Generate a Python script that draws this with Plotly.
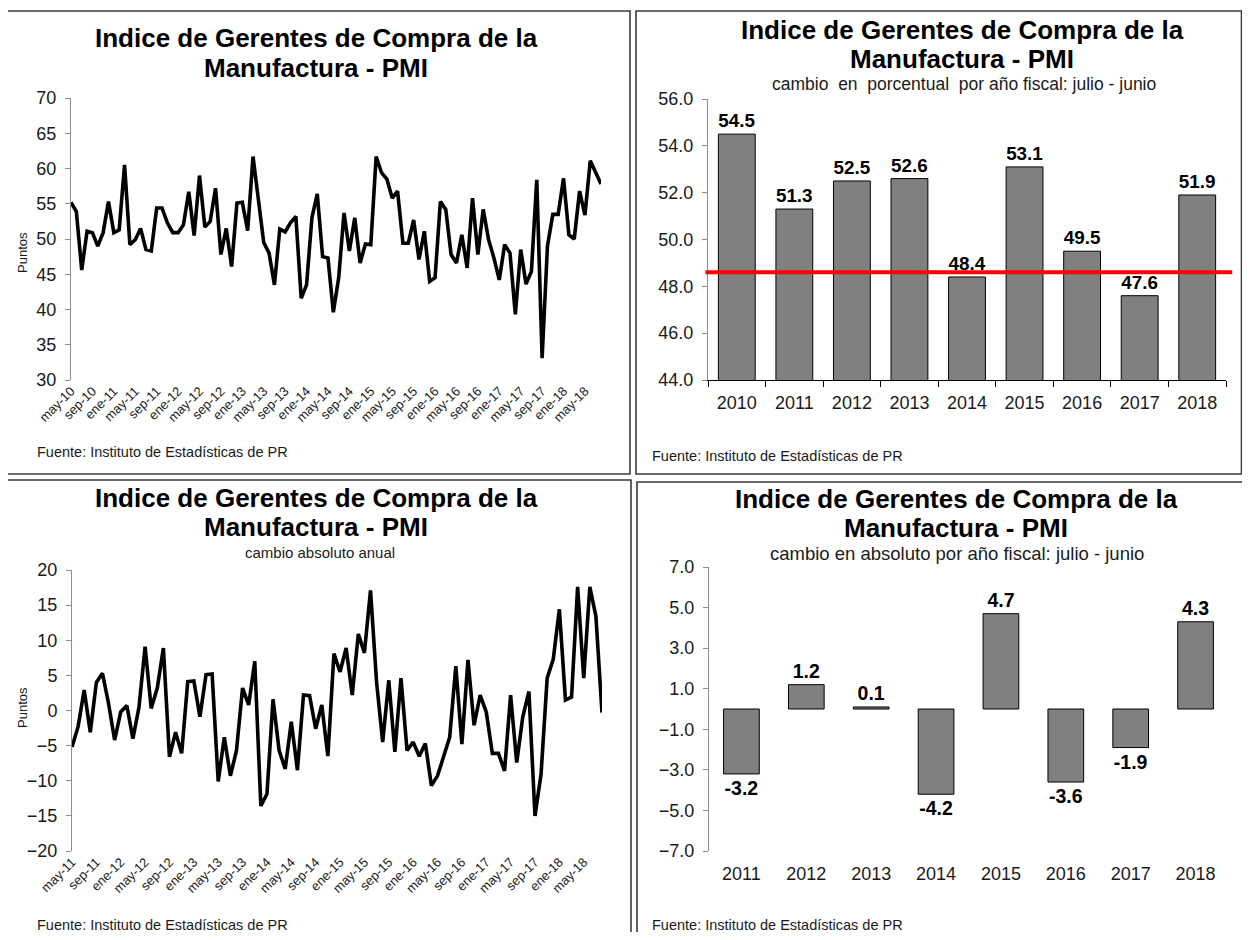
import plotly.graph_objects as go

# page body has an 8px margin; the figure fills the rest of the 1250x940 window
OX, OY = 8, 8
W, H = 1250 - 2 * OX, 940 - 2 * OY

# ---------------- data ----------------
meses = ["ene", "feb", "mar", "abr", "may", "jun", "jul", "ago", "sep", "oct", "nov", "dic"]

# PMI mensual, may-2010 .. ago-2018
pmi_valores = [
    55.2, 53.9, 45.6, 51.1, 50.9, 49.0, 50.9, 55.3, 50.9, 51.3,
    60.5, 49.2, 49.9, 51.5, 48.5, 48.3, 54.4, 54.4, 52.3, 50.9,
    50.9, 52.0, 56.7, 50.5, 59.0, 51.7, 52.5, 57.2, 47.8, 51.5,
    46.1, 55.1, 55.2, 51.2, 61.7, 56.0, 49.5, 48.0, 43.5, 51.4,
    51.0, 52.3, 53.2, 41.6, 43.5, 53.0, 56.4, 47.5, 47.3, 39.6,
    44.5, 53.7, 48.3, 53.0, 46.6, 49.3, 49.2, 61.7, 59.4, 58.5,
    55.8, 56.8, 49.4, 49.4, 52.7, 47.1, 51.1, 44.0, 44.5, 55.3,
    54.2, 47.8, 46.6, 50.6, 45.9, 55.8, 47.8, 54.2, 49.9, 47.3,
    44.2, 49.2, 48.0, 39.3, 48.5, 43.6, 45.4, 58.4, 33.1, 49.0,
    53.5, 53.5, 58.6, 50.6, 50.0, 56.8, 53.4, 61.1, 59.5, 57.8,
]

# cambio absoluto anual, may-2011 .. ago-2018
cambio_anual = [
    -5.2, -2.3, 2.9, -3.1, 4.0, 5.3, 1.0, -4.2, -0.2, 0.7,
    -4.0, 0.5, 9.1, 0.3, 3.2, 8.9, -6.6, -3.1, -6.1, 4.1,
    4.2, -0.9, 5.1, 5.2, -10.1, -3.8, -9.3, -5.7, 3.2, 0.8,
    7.0, -13.6, -11.9, 1.6, -5.7, -8.3, -1.6, -8.5, 2.2, 2.1,
    -2.6, 0.8, -6.5, 8.1, 5.5, 8.9, 2.2, 10.9, 8.2, 17.1,
    4.0, -4.5, 4.3, -5.9, 4.6, -5.7, -4.5, -6.5, -4.7, -10.7,
    -9.3, -6.5, -3.8, 6.3, -4.8, 7.2, -2.1, 2.2, -0.2, -6.1,
    -6.1, -8.6, 2.2, -7.4, -0.9, 2.7, -15.0, -9.0, 4.6, 7.3,
    14.4, 1.5, 1.9, 17.6, 4.6, 17.6, 13.4, -0.3,
]

anios_fiscal = ["2010", "2011", "2012", "2013", "2014", "2015", "2016", "2017", "2018"]
pmi_fiscal = [54.5, 51.3, 52.5, 52.6, 48.4, 53.1, 49.5, 47.6, 51.9]
linea_referencia = 48.6

anios_cambio = ["2011", "2012", "2013", "2014", "2015", "2016", "2017", "2018"]
cambio_fiscal = [-3.2, 1.2, 0.1, -4.2, 4.7, -3.6, -1.9, 4.3]

titulo_1 = "Indice de Gerentes de Compra de la"
titulo_2 = "Manufactura - PMI"
fuente = "Fuente: Instituto de Estadísticas de PR"
sub_tr = "cambio  en  porcentual  por año fiscal: julio - junio"
sub_bl = "cambio absoluto anual"
sub_br = "cambio en absoluto por año fiscal: julio - junio"


def etiquetas_mes(anio, mes, n):
    out = []
    for _ in range(n):
        out.append(f"{meses[mes]}-{anio % 100:02d}")
        mes += 1
        if mes == 12:
            mes, anio = 0, anio + 1
    return out


pmi_meses = etiquetas_mes(2010, 4, len(pmi_valores))
cambio_meses = etiquetas_mes(2011, 4, len(cambio_anual))


def fx(px):
    return (px - OX) / W


def fy(py):
    return 1 - (py - OY) / H


FONT = "Liberation Sans, Arial, sans-serif"
AX = "#8c8c8c"
TXT = "#1a1a1a"

fig = go.Figure()

fig.add_trace(go.Scatter(x=pmi_meses, y=pmi_valores, mode="lines",
                         line=dict(color="black", width=3.6), xaxis="x", yaxis="y",
                         showlegend=False))
fig.add_trace(go.Bar(x=anios_fiscal, y=pmi_fiscal, xaxis="x2", yaxis="y2",
                     marker=dict(color="#808080", line=dict(color="black", width=1)),
                     width=0.64, text=pmi_fiscal, texttemplate="%{y:.1f}",
                     textposition="outside", cliponaxis=False,
                     textfont=dict(family=FONT, size=19.5, color="black", weight="bold"),
                     showlegend=False))
fig.add_trace(go.Scatter(x=cambio_meses, y=cambio_anual, mode="lines",
                         line=dict(color="black", width=3.6), xaxis="x3", yaxis="y3",
                         showlegend=False))
fig.add_trace(go.Bar(x=anios_cambio, y=cambio_fiscal, xaxis="x4", yaxis="y4",
                     marker=dict(color="#808080", line=dict(color="black", width=1)),
                     width=0.55, text=cambio_fiscal, texttemplate="%{y:.1f}",
                     textposition="outside", cliponaxis=False,
                     textfont=dict(family=FONT, size=19.5, color="black", weight="bold"),
                     showlegend=False))

tickfont = dict(family=FONT, size=18, color=TXT)
monthfont = dict(family=FONT, size=13, color=TXT)
yearfont = dict(family=FONT, size=18, color=TXT)

yl_common = dict(showgrid=False, zeroline=False, showline=True, linecolor=AX, linewidth=1,
                 ticks="outside", ticklen=5, tickcolor=AX, tickfont=tickfont,
                 ticklabelstandoff=5, automargin=False)

tl_x = [fx(71), fx(601)]
tl_y = [fy(380), fy(98)]
tr_x = [fx(708), fx(1226)]
tr_y = [fy(380), fy(99)]
bl_x = [fx(72), fx(602)]
bl_y = [fy(851), fy(570)]
br_x = [fx(709), fx(1228)]
br_y = [fy(851), fy(567)]

tl_range = [30, 70]
bl_range = [-20, 20]
br_range = [-7, 7]


def pos(dom, rng, v):
    return dom[0] + (v - rng[0]) / (rng[1] - rng[0]) * (dom[1] - dom[0])


axis_at = dict(type="linear", automargin=False, ticks="outside", tickcolor="black",
               showline=True, linecolor="black", showticklabels=False,
               showgrid=False, zeroline=False)

fig.update_layout(
    width=W, height=H, margin=dict(l=0, r=0, t=0, b=0, autoexpand=False),
    paper_bgcolor="white", plot_bgcolor="rgba(0,0,0,0)",
    font=dict(family=FONT, color=TXT),
    xaxis=dict(domain=tl_x, anchor="y", type="category", range=[0, len(pmi_meses) - 1],
               tickmode="array", tickvals=pmi_meses[::4], tickangle=-45, automargin=False,
               showline=False, ticks="", showgrid=False, zeroline=False, tickfont=monthfont),
    yaxis=dict(domain=tl_y, anchor="x", range=tl_range, dtick=5, **yl_common),
    xaxis5=dict(overlaying="x", anchor="free", position=pos(tl_y, tl_range, 50),
                range=[0, len(pmi_meses) - 1], tickvals=list(range(0, len(pmi_meses), 4)),
                ticklen=4, linewidth=1.3, **axis_at),
    xaxis2=dict(domain=tr_x, anchor="y2", type="category", showline=True, linecolor="black",
                linewidth=1, ticks="outside", tickson="boundaries", ticklen=6, automargin=False,
                tickcolor="black", showgrid=False, zeroline=False, tickfont=yearfont,
                ticklabelstandoff=6),
    yaxis2=dict(domain=tr_y, anchor="x2", range=[44, 56], dtick=2, tickformat=".1f",
                **yl_common),
    xaxis3=dict(domain=bl_x, anchor="y3", type="category", range=[0, len(cambio_meses) - 1],
                tickmode="array", tickvals=cambio_meses[::4], tickangle=-45, automargin=False,
                showline=False, ticks="", showgrid=False, zeroline=False, tickfont=monthfont),
    yaxis3=dict(domain=bl_y, anchor="x3", range=bl_range, dtick=5, **yl_common),
    xaxis6=dict(overlaying="x3", anchor="free", position=pos(bl_y, bl_range, 0),
                range=[0, len(cambio_meses) - 1], tickvals=list(range(0, len(cambio_meses), 4)),
                ticklen=4, linewidth=1.3, **axis_at),
    xaxis4=dict(domain=br_x, anchor="y4", type="category", showline=False, ticks="",
                showgrid=False, zeroline=False, automargin=False, tickfont=yearfont,
                ticklabelstandoff=10),
    yaxis4=dict(domain=br_y, anchor="x4", range=br_range, tickvals=[-7, -5, -3, -1, 1, 3, 5, 7],
                tickformat=".1f", **yl_common),
    xaxis7=dict(overlaying="x4", anchor="free", position=pos(br_y, br_range, 0),
                range=[-0.5, len(anios_cambio) - 0.5],
                tickvals=[i - 0.5 for i in range(len(anios_cambio) + 1)],
                ticklen=5, linewidth=1, **axis_at),
)

fig.add_shape(type="line", xref="x2 domain", yref="y2", x0=-0.005, x1=1.012,
              y0=linea_referencia, y1=linea_referencia,
              line=dict(color="#ff0000", width=4), layer="above")

for (x0, y0, x1, y1) in [(7, 11, 630, 474), (636, 11, 1241.5, 474),
                         (7, 480, 631, 945), (637, 482, 1247, 945)]:
    fig.add_shape(type="rect", xref="paper", yref="paper",
                  x0=fx(x0), x1=fx(x1), y0=fy(y1), y1=fy(y0),
                  line=dict(color="#3a3a3a", width=1.6), fillcolor="rgba(0,0,0,0)",
                  layer="above")

ann = []
titlefont = dict(family=FONT, size=26, color="black", weight="bold")
srcfont = dict(family=FONT, size=14.5, color=TXT)


def txt(text, x, y, font, xanchor="center", angle=0):
    ann.append(dict(text=text, x=fx(x), y=fy(y), xref="paper", yref="paper",
                    xanchor=xanchor, yanchor="middle", showarrow=False, font=font,
                    textangle=angle))


for cx, y1, y2 in [(316, 38, 68), (962, 30, 59), (316, 498, 527), (956, 499, 528)]:
    txt(titulo_1, cx, y1, titlefont)
    txt(titulo_2, cx, y2, titlefont)
txt(sub_tr, 964, 84, dict(family=FONT, size=17.5, color=TXT))
txt(sub_bl, 320, 552, dict(family=FONT, size=15, color=TXT))
txt(sub_br, 957, 553, dict(family=FONT, size=18.5, color=TXT))
for sx, sy in [(35, 452), (650, 456), (35, 925), (650, 925)]:
    txt(fuente, sx, sy, srcfont, xanchor="left")
for py in [253, 708]:
    txt("Puntos", 22, py, dict(family=FONT, size=13, color=TXT), angle=-90)
fig.update_layout(annotations=ann)

fig.write_html("out.html")
